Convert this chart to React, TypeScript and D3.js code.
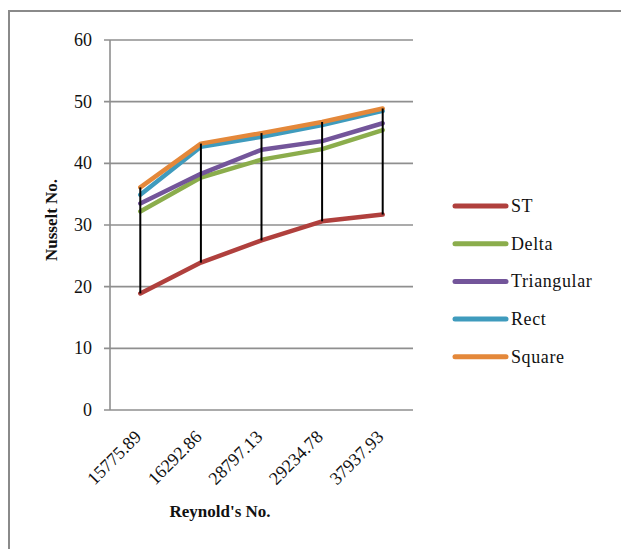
import React from "react";
import * as d3 from "d3";

// Reynolds numbers (category labels) and Nusselt numbers per tape insert
const reynolds = ["15775.89", "16292.86", "28797.13", "29234.78", "37937.93"];
const stValues = [18.9, 23.9, 27.5, 30.6, 31.7];
const deltaValues = [32.2, 37.7, 40.6, 42.3, 45.4];
const triangularValues = [33.5, 38.3, 42.2, 43.6, 46.5];
const rectValues = [34.9, 42.7, 44.3, 46.2, 48.5];
const squareValues = [36.1, 43.2, 44.9, 46.7, 48.9];
const yTicks = [0, 10, 20, 30, 40, 50, 60];

const series = [
  { name: "ST", values: stValues, color: "#b0403d" },
  { name: "Delta", values: deltaValues, color: "#8bad4c" },
  { name: "Triangular", values: triangularValues, color: "#73559a" },
  { name: "Rect", values: rectValues, color: "#3f9bbd" },
  { name: "Square", values: squareValues, color: "#e4883a" },
];

const W = 621;
const H = 549;
const plot = { left: 110, right: 413, top: 40, bottom: 410 };
const font = "'Liberation Serif', 'Times New Roman', serif";

export default function App() {
  const x = d3
    .scaleBand<string>()
    .domain(reynolds)
    .range([plot.left, plot.right]);
  const cx = (c: string) => (x(c) as number) + x.bandwidth() / 2;
  const y = d3.scaleLinear().domain([0, 60]).range([plot.bottom, plot.top]);

  const line = d3
    .line<number>()
    .x((_, i) => cx(reynolds[i]))
    .y((v) => y(v));

  const legendX = 455;
  const legendY0 = 206;
  const legendStep = 37.7;

  return (
    <svg
      width={W}
      height={H}
      style={{ position: "absolute", left: 0, top: 0, background: "#fff" }}
      fontFamily={font}
    >
      <rect x={0} y={0} width={W} height={H} fill="#fff" />
      {/* chart frame */}
      <path d={`M9,${H} V11 H${W}`} fill="none" stroke="#8a8a8a" strokeWidth={2} />

      {/* gridlines and y ticks */}
      {yTicks.map((t) => (
        <g key={t}>
          <line
            x1={plot.left - 6}
            x2={plot.right}
            y1={y(t)}
            y2={y(t)}
            stroke="#8f8f8f"
            strokeWidth={1.6}
          />
          <text
            x={92}
            y={y(t) + 6}
            textAnchor="end"
            fontSize={18}
            fill="#111"
          >
            {t}
          </text>
        </g>
      ))}
      <line
        x1={plot.left}
        x2={plot.left}
        y1={plot.top}
        y2={plot.bottom}
        stroke="#8f8f8f"
        strokeWidth={1.6}
      />

      {/* x tick labels */}
      {reynolds.map((c) => (
        <text
          key={c}
          transform={`translate(${cx(c) + 2},${438}) rotate(-45)`}
          textAnchor="end"
          fontSize={18}
          fill="#111"
        >
          {c}
        </text>
      ))}

      {/* series lines */}
      {series.map((s) => (
        <path
          key={s.name}
          d={line(s.values) || ""}
          fill="none"
          stroke={s.color}
          strokeWidth={4.5}
          strokeLinecap="round"
          strokeLinejoin="round"
        />
      ))}

      {/* high-low lines */}
      {reynolds.map((c, i) => {
        const vals = series.map((s) => s.values[i]);
        return (
          <line
            key={c}
            x1={cx(c)}
            x2={cx(c)}
            y1={y(d3.min(vals) as number)}
            y2={y(d3.max(vals) as number)}
            stroke="#000"
            strokeWidth={2}
          />
        );
      })}

      {/* axis titles */}
      <text
        transform="translate(57,220) rotate(-90)"
        textAnchor="middle"
        fontSize={17}
        fontWeight="bold"
        fill="#111"
      >
        Nusselt No.
      </text>
      <text
        x={220}
        y={517}
        textAnchor="middle"
        fontSize={17}
        fontWeight="bold"
        fill="#111"
      >
        Reynold's No.
      </text>

      {/* legend */}
      {series.map((s, i) => {
        const ly = legendY0 + i * legendStep;
        return (
          <g key={s.name}>
            <line
              x1={legendX}
              x2={legendX + 51}
              y1={ly}
              y2={ly}
              stroke={s.color}
              strokeWidth={5}
              strokeLinecap="round"
            />
            <text
              x={511}
              y={ly + 6}
              fontSize={18}
              letterSpacing={0.6}
              fill="#111"
            >
              {s.name}
            </text>
          </g>
        );
      })}
    </svg>
  );
}
